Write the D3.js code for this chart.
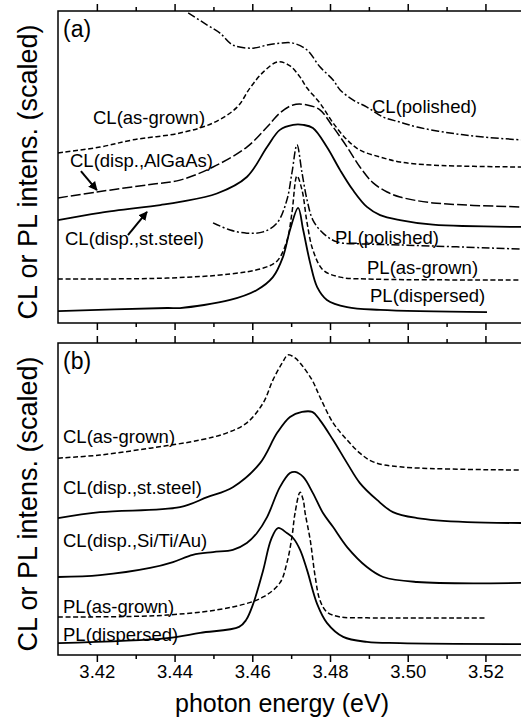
<!DOCTYPE html>
<html><head><meta charset="utf-8">
<script src="https://cdn.jsdelivr.net/npm/d3@7"></script>
<style>
body{margin:0;background:#fff}
svg{display:block}
text{font-family:"Liberation Sans",Arial,Helvetica,sans-serif;fill:#000}
</style>
</head><body>
<svg id="chart" width="521" height="719"></svg>
<script>
// ---------- data: [photon energy (eV), scaled intensity] ----------
const energyDomain = [3.41, 3.53];
const majorTicks = [3.42, 3.44, 3.46, 3.48, 3.50, 3.52];
const minorTicks = [3.43, 3.45, 3.47, 3.49, 3.51];

// panel (a)
const aCLpolished = [[3.4435,99.4],[3.4484,95.5],[3.4517,92.9],[3.4550,89.1],[3.4602,88.1],[3.4638,89.1],[3.4671,89.7],[3.4705,89.7],[3.4741,87.5],[3.4774,82.1],[3.4808,77.9],[3.4826,74.7],[3.4859,71.5],[3.4895,69.2],[3.4937,66.0],[3.4980,64.4],[3.5024,62.8],[3.5109,60.9],[3.5194,59.6],[3.5292,58.7]];
const aCLasGrown = [[3.41,54.5],[3.4208,56.4],[3.4293,58.7],[3.4414,60.9],[3.4499,64.1],[3.4561,69.2],[3.4594,75.3],[3.4628,80.4],[3.4666,83.7],[3.4697,82.4],[3.4723,78.8],[3.4741,75.3],[3.4774,70.5],[3.4808,64.1],[3.4844,58.7],[3.4877,55.4],[3.4929,53.2],[3.4980,51.6],[3.5065,50.6],[3.5292,50.0]];
const aCLAlGaAs = [[3.41,40.1],[3.42,42.0],[3.4337,44.4],[3.4414,45.8],[3.4499,50.0],[3.4586,56.4],[3.4638,62.8],[3.4671,67.3],[3.4705,69.9],[3.4741,69.9],[3.4774,68.3],[3.4808,62.8],[3.4844,56.4],[3.4877,50.0],[3.4911,44.9],[3.4947,42.0],[3.4980,40.4],[3.5065,38.5],[3.5292,37.2]];
const aCLsteel = [[3.41,33.0],[3.4208,35.3],[3.4363,37.8],[3.4414,38.8],[3.4509,41.5],[3.4586,46.8],[3.4638,56.4],[3.4671,61.9],[3.4705,63.5],[3.4731,63.5],[3.4756,62.5],[3.4792,56.4],[3.4826,49.0],[3.4859,42.6],[3.4895,37.2],[3.4929,34.6],[3.4980,33.0],[3.5065,31.5],[3.5292,30.8]];
const aPLpolished = [[3.4499,32.1],[3.4543,29.8],[3.4586,28.8],[3.4628,29.2],[3.4664,32.1],[3.4689,39.4],[3.4702,48.1],[3.4715,57.1],[3.4728,48.1],[3.4741,39.4],[3.4756,33.0],[3.4782,28.8],[3.4818,26.0],[3.4895,25.3],[3.4980,25.0],[3.5292,23.7]];
const aPLasGrown = [[3.41,14.1],[3.4381,14.4],[3.4543,15.7],[3.4628,17.6],[3.4664,19.9],[3.4689,26.3],[3.4702,35.3],[3.4715,47.1],[3.4728,42.6],[3.4741,32.1],[3.4756,23.4],[3.4782,17.0],[3.4826,14.7],[3.4895,14.1],[3.5292,13.8]];
const aPLdispersed = [[3.41,3.8],[3.4381,4.8],[3.4414,4.8],[3.4543,7.4],[3.4612,10.6],[3.4653,14.7],[3.4679,21.2],[3.4697,29.8],[3.4718,36.9],[3.4731,29.8],[3.4749,19.2],[3.4767,11.5],[3.4792,7.4],[3.4844,5.1],[3.4929,4.2],[3.5204,3.5]];

// panel (b)
const bCLasGrown = [[3.41,63.1],[3.4208,64.1],[3.4337,66.3],[3.4466,68.9],[3.4535,71.2],[3.4586,74.4],[3.4628,80.8],[3.4653,88.1],[3.4677,93.6],[3.4692,96.2],[3.4710,95.2],[3.4723,93.6],[3.4754,88.1],[3.4774,82.7],[3.4808,74.4],[3.4844,68.9],[3.4877,64.7],[3.4911,61.9],[3.4980,60.3],[3.5292,59.3]];
const bCLsteel = [[3.41,43.9],[3.4208,45.8],[3.4414,47.4],[3.4484,50.6],[3.4550,53.8],[3.4620,61.5],[3.4664,71.2],[3.4697,76.3],[3.4728,77.9],[3.4754,77.9],[3.4774,75.3],[3.4808,68.9],[3.4844,61.5],[3.4877,55.1],[3.4921,49.7],[3.4962,45.8],[3.5024,43.9],[3.5153,42.6],[3.5292,42.3]];
const bCLSiTiAu = [[3.41,25.0],[3.4208,25.6],[3.4337,27.9],[3.4396,29.8],[3.4447,32.1],[3.4499,33.0],[3.4550,33.7],[3.4586,35.9],[3.4612,39.1],[3.4638,44.2],[3.4671,53.8],[3.4697,58.3],[3.4710,58.7],[3.4731,57.1],[3.4756,51.9],[3.4782,45.5],[3.4808,41.0],[3.4844,34.6],[3.4895,28.2],[3.4937,25.0],[3.5024,23.4],[3.5292,23.1]];
const bPLasGrown = [[3.41,12.2],[3.4381,12.8],[3.4550,15.4],[3.4628,18.6],[3.4671,23.1],[3.4689,29.5],[3.4702,37.8],[3.4710,45.5],[3.4723,52.2],[3.4731,49.7],[3.4736,45.5],[3.4749,36.9],[3.4762,25.0],[3.4774,17.6],[3.4792,13.8],[3.4826,12.2],[3.4895,11.9],[3.5204,11.9]];
const bPLdispersed = [[3.41,3.8],[3.4381,5.4],[3.4466,7.1],[3.4566,9.0],[3.4584,11.2],[3.4602,16.3],[3.4628,27.2],[3.4648,36.9],[3.4666,40.7],[3.4689,39.1],[3.4705,37.5],[3.4723,33.7],[3.4741,27.2],[3.4767,16.3],[3.4792,10.3],[3.4834,5.8],[3.4895,4.2],[3.4980,3.8],[3.5292,3.5]];

// ---------- layout ----------
const svg = d3.select("#chart");
const x = d3.scaleLinear().domain(energyDomain).range([58, 524.3]);
const panels = [
  {key:"a", top:11, bottom:323, label:"(a)"},
  {key:"b", top:343, bottom:655, label:"(b)"}
];
panels.forEach(p => { p.y = d3.scaleLinear().domain([0,100]).range([p.bottom, p.top]); });

const styles = {
  solid: {dash:null, w:1.8},
  dash: {dash:"5,2.6", w:1.5},
  longdash: {dash:"10,3", w:1.5},
  dashdot: {dash:"8,2.5,2,2.5", w:1.5}
};

const series = [
  {panel:0, data:aCLpolished, style:"dashdot"},
  {panel:0, data:aCLasGrown, style:"dash"},
  {panel:0, data:aCLAlGaAs, style:"longdash"},
  {panel:0, data:aCLsteel, style:"solid"},
  {panel:0, data:aPLpolished, style:"dashdot"},
  {panel:0, data:aPLasGrown, style:"dash"},
  {panel:0, data:aPLdispersed, style:"solid"},
  {panel:1, data:bCLasGrown, style:"dash"},
  {panel:1, data:bCLsteel, style:"solid"},
  {panel:1, data:bCLSiTiAu, style:"solid"},
  {panel:1, data:bPLasGrown, style:"dash"},
  {panel:1, data:bPLdispersed, style:"solid"}
];

const labels = [
  {panel:0, t:"CL(polished)", x:372, y:113},
  {panel:0, t:"CL(as-grown)", x:93, y:124},
  {panel:0, t:"CL(disp.,AlGaAs)", x:70, y:167},
  {panel:0, t:"CL(disp.,st.steel)", x:65, y:245},
  {panel:0, t:"PL(polished)", x:335, y:244},
  {panel:0, t:"PL(as-grown)", x:367, y:274},
  {panel:0, t:"PL(dispersed)", x:370, y:302},
  {panel:1, t:"CL(as-grown)", x:63, y:443},
  {panel:1, t:"CL(disp.,st.steel)", x:63, y:494},
  {panel:1, t:"CL(disp.,Si/Ti/Au)", x:63, y:547},
  {panel:1, t:"PL(as-grown)", x:63, y:613},
  {panel:1, t:"PL(dispersed)", x:63, y:641}
];

// arrows in data coordinates of panel (a)
const arrows = [
  {from:[3.4159,48.7], to:[3.4200,42.6]},
  {from:[3.4280,28.2], to:[3.4329,35.6]}
];

svg.append("defs").append("marker")
  .attr("id","ah").attr("viewBox","0 0 10 10").attr("refX",9).attr("refY",5)
  .attr("markerWidth",9).attr("markerHeight",9).attr("markerUnits","userSpaceOnUse")
  .attr("orient","auto")
  .append("path").attr("d","M0,0 L10,5 L0,10 z").attr("fill","#000");

// frames and ticks
panels.forEach((p, i) => {
  svg.append("rect").attr("x",58).attr("y",p.top).attr("width",524.3-58).attr("height",p.bottom-p.top)
    .attr("fill","none").attr("stroke","#000").attr("stroke-width",1.5);
  const topMaj = svg.append("g").attr("transform",`translate(0,${p.top})`)
    .call(d3.axisTop(x).tickValues(majorTicks).tickSize(7).tickSizeOuter(0).tickFormat(""));
  const topMin = svg.append("g").attr("transform",`translate(0,${p.top})`)
    .call(d3.axisTop(x).tickValues(minorTicks).tickSize(4).tickSizeOuter(0).tickFormat(""));
  const botMaj = svg.append("g").attr("transform",`translate(0,${p.bottom})`)
    .call(d3.axisBottom(x).tickValues(majorTicks).tickSize(7).tickSizeOuter(0)
      .tickFormat(i === 1 ? d3.format(".2f") : ""));
  const botMin = svg.append("g").attr("transform",`translate(0,${p.bottom})`)
    .call(d3.axisBottom(x).tickValues(minorTicks).tickSize(4).tickSizeOuter(0).tickFormat(""));
  [topMaj, topMin, botMaj, botMin].forEach(g => {
    g.select(".domain").remove();
    g.selectAll("line").attr("stroke","#000").attr("stroke-width",1.5);
    g.selectAll("text").attr("font-size","18.5px").attr("font-family","'Liberation Sans',Arial,sans-serif").attr("fill","#000");
  });
  svg.append("text").attr("x",63).attr("y",p.top + 26).attr("font-size","23px").text(p.label);
  // y-axis title
  svg.append("text")
    .attr("transform",`translate(37,${(p.top+p.bottom)/2 + 5}) rotate(-90)`)
    .attr("text-anchor","middle").attr("font-size","27px")
    .text("CL or PL intens. (scaled)");
});

// curves
series.forEach(s => {
  const p = panels[s.panel];
  const st = styles[s.style];
  const line = d3.line().x(d => x(d[0])).y(d => p.y(d[1])).curve(d3.curveCatmullRom.alpha(0.5));
  svg.append("path").attr("d", line(s.data)).attr("fill","none").attr("stroke","#000")
    .attr("stroke-width", st.w).attr("stroke-dasharray", st.dash).attr("stroke-linejoin","round");
});

// curve labels
labels.forEach(l => {
  svg.append("text").attr("x",l.x).attr("y",l.y).attr("font-size","18.5px").text(l.t);
});

// arrows
arrows.forEach(a => {
  const p = panels[0];
  svg.append("line")
    .attr("x1",x(a.from[0])).attr("y1",p.y(a.from[1]))
    .attr("x2",x(a.to[0])).attr("y2",p.y(a.to[1]))
    .attr("stroke","#000").attr("stroke-width",2).attr("marker-end","url(#ah)");
});

// x-axis title
svg.append("text").attr("x",282).attr("y",712).attr("text-anchor","middle")
  .attr("font-size","25px").text("photon energy (eV)");
</script>
</body></html>
